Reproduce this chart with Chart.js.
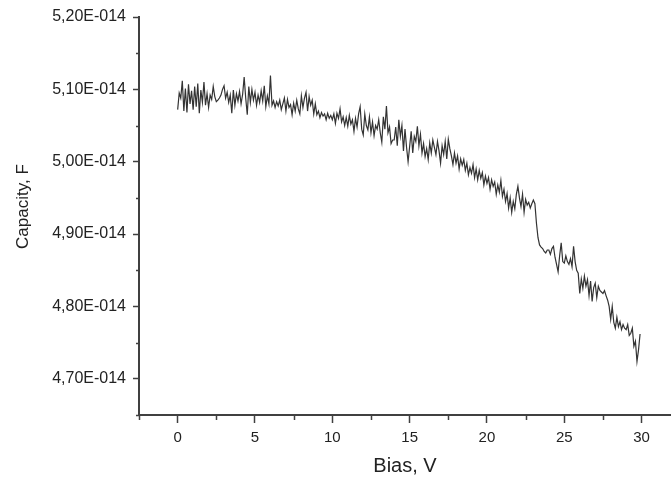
<!DOCTYPE html>
<html>
<head>
<meta charset="utf-8">
<script src="https://cdn.jsdelivr.net/npm/chart.js@4"></script>
<style>
html,body{margin:0;padding:0;background:#fff;}
#c{display:block;}
</style>
</head>
<body>
<canvas id="c" width="671" height="479"></canvas>
<script>
// Capacity in units of 1E-014 F, measured every 0.1 V from 0.0 V to 29.9 V
const capacity = [
  5.072, 5.095, 5.088, 5.112, 5.070, 5.101, 5.068, 5.107, 5.080, 5.098,
  5.072, 5.104, 5.076, 5.108, 5.067, 5.099, 5.082, 5.110, 5.078, 5.094,
  5.075, 5.092, 5.086, 5.104, 5.090, 5.083, 5.085, 5.088, 5.092, 5.100,
  5.105, 5.088, 5.096, 5.082, 5.092, 5.067, 5.099, 5.078, 5.094, 5.084,
  5.097, 5.080, 5.093, 5.117, 5.088, 5.065, 5.104, 5.082, 5.100, 5.085,
  5.096, 5.078, 5.092, 5.082, 5.098, 5.084, 5.105, 5.076, 5.091, 5.080,
  5.119, 5.078, 5.084, 5.075, 5.083, 5.077, 5.085, 5.072, 5.080, 5.088,
  5.070, 5.086, 5.075, 5.079, 5.065, 5.081, 5.070, 5.085, 5.073, 5.066,
  5.091, 5.075, 5.088, 5.096, 5.070, 5.090, 5.078, 5.085, 5.066, 5.080,
  5.065, 5.070, 5.061, 5.068, 5.063, 5.066, 5.058, 5.067, 5.060, 5.064,
  5.058, 5.066, 5.053, 5.067, 5.060, 5.073, 5.055, 5.062, 5.050, 5.061,
  5.049, 5.064, 5.052, 5.058, 5.042, 5.060, 5.048, 5.066, 5.076, 5.045,
  5.037, 5.066, 5.050, 5.044, 5.062, 5.040, 5.055, 5.036, 5.050, 5.045,
  5.058, 5.040, 5.027, 5.062, 5.045, 5.077, 5.040, 5.048, 5.025, 5.030,
  5.030, 5.048, 5.022, 5.058, 5.035, 5.050, 5.015, 5.045, 5.020, 5.000,
  5.021, 5.042, 5.012, 5.035, 5.028, 5.049, 5.022, 5.038, 5.012, 5.025,
  5.007, 5.018, 5.003, 5.026, 5.012, 5.030, 5.020, 5.010, 5.028, 5.015,
  4.998, 5.022, 5.010, 5.028, 5.004, 5.031, 5.018, 5.008, 4.996, 5.012,
  4.998, 5.008, 4.990, 5.004, 4.995, 5.003, 4.988, 4.998, 4.982, 4.992,
  4.984, 4.996, 4.978, 4.990, 4.975, 4.988, 4.977, 4.985, 4.968, 4.980,
  4.970, 4.978, 4.962, 4.975, 4.966, 4.972, 4.955, 4.968, 4.958, 4.974,
  4.952, 4.962, 4.945, 4.956, 4.936, 4.950, 4.930, 4.945, 4.935, 4.955,
  4.966, 4.950, 4.938, 4.955, 4.930, 4.948, 4.940, 4.944, 4.936, 4.942,
  4.947, 4.942, 4.915, 4.895, 4.885, 4.882, 4.880, 4.876, 4.874, 4.878,
  4.878, 4.872, 4.880, 4.883, 4.868, 4.858, 4.848, 4.870, 4.888, 4.862,
  4.860, 4.870, 4.862, 4.858, 4.866, 4.855, 4.883, 4.862, 4.850, 4.846,
  4.818, 4.838, 4.825, 4.842, 4.828, 4.837, 4.815, 4.835, 4.807, 4.826,
  4.832, 4.812, 4.828, 4.822, 4.820, 4.818, 4.822, 4.815, 4.809, 4.800,
  4.782, 4.800, 4.778, 4.770, 4.785, 4.772, 4.779, 4.768, 4.775, 4.770,
  4.768, 4.775, 4.760, 4.763, 4.770, 4.745, 4.752, 4.724, 4.740, 4.762
];
const biasStart = 0.0;   // V
const biasStep = 0.1;    // V
const bias = capacity.map((_, i) => +(biasStart + i * biasStep).toFixed(1));

const xTickLabels = ['0', '5', '10', '15', '20', '25', '30'];
const yTickLabels = ['4,70E-014', '4,80E-014', '4,90E-014', '5,00E-014', '5,10E-014', '5,20E-014'];
const xTitle = 'Bias, V';
const yTitle = '    Capacity, F';

const points = bias.map((b, i) => ({ x: b, y: capacity[i] }));

const isMajorX = v => Math.abs(v / 5 - Math.round(v / 5)) < 1e-6;
const isMajorY = v => Math.abs(v * 10 - Math.round(v * 10)) < 1e-6;

const axisColor = '#404040';
const textColor = '#222';
const fontFamily = '"Liberation Sans", Arial, sans-serif';

const minorTicks = {
  id: 'minorTicks',
  afterDraw(chart) {
    const ctx = chart.ctx;
    const xs = chart.scales.x, ys = chart.scales.y;
    ctx.save();
    ctx.strokeStyle = axisColor;
    ctx.lineWidth = 1.5;
    ctx.beginPath();
    xs.ticks.forEach(t => {
      if (!isMajorX(t.value)) {
        const px = Math.round(xs.getPixelForValue(t.value)) + 0.5;
        ctx.moveTo(px, xs.top);
        ctx.lineTo(px, xs.top + 5);
      }
    });
    ys.ticks.forEach(t => {
      if (!isMajorY(t.value)) {
        const py = Math.round(ys.getPixelForValue(t.value)) + 0.5;
        ctx.moveTo(ys.right, py);
        ctx.lineTo(ys.right - 3, py);
      }
    });
    ctx.stroke();
    ctx.restore();
  }
};

new Chart(document.getElementById('c'), {
  type: 'line',
  data: {
    datasets: [{
      data: points,
      borderColor: '#333333',
      borderWidth: 1.2,
      pointRadius: 0,
      tension: 0,
      fill: false
    }]
  },
  options: {
    responsive: false,
    animation: false,
    events: [],
    layout: { padding: { top: 17, right: 0, left: 0, bottom: 0 } },
    plugins: { legend: { display: false }, tooltip: { enabled: false } },
    scales: {
      x: {
        type: 'linear',
        min: -2.5,
        max: 31.9,
        afterBuildTicks(scale) {
          scale.ticks = scale.ticks.filter(t => Math.abs(t.value / 2.5 - Math.round(t.value / 2.5)) < 1e-6);
        },
        afterFit(scale) { scale.height = 64; },
        border: { display: true, color: axisColor, width: 2 },
        grid: {
          display: true,
          drawOnChartArea: false,
          drawTicks: true,
          tickLength: 8,
          tickWidth: 1.5,
          tickColor: ctx => (ctx.tick && isMajorX(ctx.tick.value)) ? axisColor : 'rgba(0,0,0,0)'
        },
        ticks: {
          stepSize: 2.5,
          includeBounds: false,
          autoSkip: false,
          maxRotation: 0,
          padding: 6,
          color: textColor,
          font: { family: fontFamily, size: 15 },
          callback: v => {
            if (!isMajorX(v)) return '';
            const idx = Math.round(v / 5);
            return xTickLabels[idx] !== undefined ? xTickLabels[idx] : '';
          }
        },
        title: {
          display: true,
          text: xTitle,
          color: textColor,
          font: { family: fontFamily, size: 20 },
          padding: { top: 0, bottom: 1 }
        }
      },
      y: {
        type: 'linear',
        min: 4.65,
        max: 5.20,
        afterFit(scale) { scale.width = 139; },
        border: { display: true, color: axisColor, width: 2 },
        grid: {
          display: true,
          drawOnChartArea: false,
          drawTicks: true,
          tickLength: 6,
          tickWidth: 1.5,
          tickColor: ctx => (ctx.tick && isMajorY(ctx.tick.value)) ? axisColor : 'rgba(0,0,0,0)'
        },
        ticks: {
          stepSize: 0.05,
          autoSkip: false,
          padding: 7,
          color: textColor,
          font: { family: fontFamily, size: 16 },
          callback: v => {
            if (!isMajorY(v)) return '';
            const idx = Math.round((v - 4.70) * 10);
            return yTickLabels[idx] !== undefined ? yTickLabels[idx] : '';
          }
        },
        title: {
          display: true,
          text: yTitle,
          color: textColor,
          font: { family: fontFamily, size: 17 },
          padding: { top: 13, bottom: 0 }
        }
      }
    }
  },
  plugins: [minorTicks]
});
</script>
</body>
</html>
